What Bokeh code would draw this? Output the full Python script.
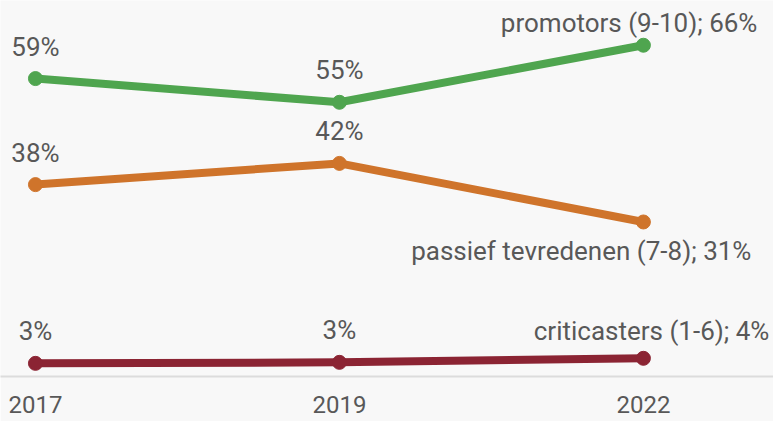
from bokeh.plotting import figure
from bokeh.models import ColumnDataSource, Range1d, FixedTicker
from bokeh.core.properties import value
from bokeh.embed import file_html
from bokeh.resources import INLINE

years = ["2017", "2019", "2022"]
series_names = ["promotors (9-10)", "passief tevredenen (7-8)", "criticasters (1-6)"]
promotors = [59.0, 54.3, 65.6]
passief = [38.0, 42.2, 30.6]
criticasters = [2.6, 2.8, 3.6]
promotors_labels = ["59%", "55%", "66%"]
passief_labels = ["38%", "42%", "31%"]
criticasters_labels = ["3%", "3%", "4%"]

colors = ["#4fa54f", "#cf742b", "#8b2433"]
end_label_offsets = [(114, -22), (108, 29), (126, -27)]

FONT = "Roboto"
TXT = "#585858"
BG = "#f8f8f8"

xs = list(range(len(years)))

p = figure(frame_width=773, frame_height=376, min_border=0, min_border_bottom=45,
           x_range=Range1d(-0.115, 2.428), y_range=Range1d(0, 74.46),
           output_backend="svg", toolbar_location=None, y_axis_location=None,
           background_fill_color=BG, border_fill_color=BG)
p.outline_line_color = None
p.xgrid.visible = False
p.ygrid.visible = False

all_vals = [promotors, passief, criticasters]
all_labels = [promotors_labels, passief_labels, criticasters_labels]

for name, vals, labs, col, (dx, dy) in zip(series_names, all_vals, all_labels, colors, end_label_offsets):
    src = ColumnDataSource(dict(x=xs, y=vals, lab=labs))
    p.line("x", "y", source=src, line_color=col, line_width=8, line_join="round", line_cap="round")
    p.scatter("x", "y", source=src, size=14, fill_color=col, line_color=col)
    # value labels for all points except the last one
    lsrc = ColumnDataSource(dict(x=xs[:-1], y=vals[:-1], lab=labs[:-1]))
    p.text("x", "y", text="lab", source=lsrc, text_align="center", text_baseline="alphabetic",
           y_offset=-32, text_font=value(FONT), text_font_size="26px", text_color=TXT)
    # end label
    esrc = ColumnDataSource(dict(x=[xs[-1]], y=[vals[-1]], lab=[f"{name}; {labs[-1]}"]))
    p.text("x", "y", text="lab", source=esrc, text_align="right", text_baseline="alphabetic",
           x_offset=dx, y_offset=dy, text_font=value(FONT), text_font_size="26px", text_color=TXT)

ax = p.xaxis[0]
ax.ticker = FixedTicker(ticks=xs)
ax.major_label_overrides = {i: y for i, y in zip(xs, years)}
ax.major_tick_line_color = None
ax.minor_tick_line_color = None
ax.axis_line_color = "#dcdcdc"
ax.axis_line_width = 2
ax.major_label_standoff = 13
ax.major_label_text_font = FONT
ax.major_label_text_font_size = "24px"
ax.major_label_text_color = TXT

open("out.html", "w").write(file_html(p, INLINE))
